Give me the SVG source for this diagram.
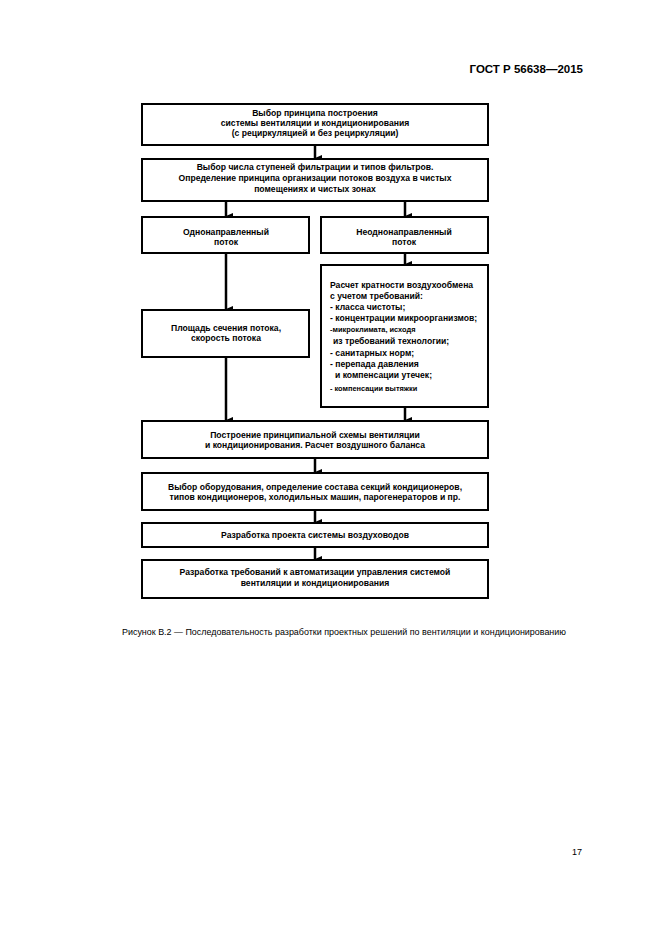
<svg xmlns="http://www.w3.org/2000/svg" width="661" height="935" viewBox="0 0 661 935">
<style>
.box{fill:#fff;stroke:#000;stroke-width:2}
.t{font-family:"Liberation Sans",Arial,sans-serif;font-size:8.6px;font-weight:bold;fill:#000}
.c{text-anchor:middle}
.s{font-size:7.4px}
.con{stroke:#000;stroke-width:2.5;fill:none}
.hdr{font-family:"Liberation Sans",Arial,sans-serif;font-size:11.5px;font-weight:bold;fill:#000}
.cap{font-family:"Liberation Sans",Arial,sans-serif;font-size:9px;fill:#000}
</style>
<defs>
<marker id="ah" markerUnits="userSpaceOnUse" markerWidth="6" markerHeight="7" refX="3" refY="7" orient="auto-start-reverse" viewBox="0 0 6 7">
<path d="M0,0 L6,0 L3,7 Z" fill="#000"/>
</marker>
</defs>
<rect width="661" height="935" fill="#fff"/>
<text class="hdr" x="583" y="73" text-anchor="end">ГОСТ Р 56638—2015</text>

<g id="connectors">
<line class="con" x1="315" y1="145" x2="315" y2="158" marker-end="url(#ah)"/>
<line class="con" x1="226" y1="201" x2="226" y2="216" marker-end="url(#ah)"/>
<line class="con" x1="405" y1="201" x2="405" y2="216" marker-end="url(#ah)"/>
<line class="con" x1="226" y1="253" x2="226" y2="309" marker-end="url(#ah)"/>
<line class="con" x1="405" y1="253" x2="405" y2="264" marker-end="url(#ah)"/>
<line class="con" x1="226" y1="357" x2="226" y2="420" marker-end="url(#ah)"/>
<line class="con" x1="405" y1="407" x2="405" y2="420" marker-end="url(#ah)"/>
<line class="con" x1="315" y1="458" x2="315" y2="472" marker-end="url(#ah)"/>
<line class="con" x1="315" y1="510" x2="315" y2="522" marker-end="url(#ah)"/>
<line class="con" x1="315" y1="547" x2="315" y2="559" marker-end="url(#ah)"/>
</g>

<g id="n1">
<rect class="box" x="142" y="104" width="346" height="41"/>
<text class="t c" x="315" y="116">Выбор принципа построения</text>
<text class="t c" x="315" y="126">системы вентиляции и кондиционирования</text>
<text class="t c" x="315" y="136">(с рециркуляцией и без рециркуляции)</text>
</g>
<g id="n2">
<rect class="box" x="142" y="159" width="346" height="42"/>
<text class="t c" x="315" y="170">Выбор числа ступеней фильтрации и типов фильтров.</text>
<text class="t c" x="315" y="181">Определение принципа организации потоков воздуха в чистых</text>
<text class="t c" x="315" y="192">помещениях и чистых зонах</text>
</g>
<g id="n3">
<rect class="box" x="142" y="217" width="167" height="36"/>
<text class="t c" x="226" y="235">Однонаправленный</text>
<text class="t c" x="226" y="245">поток</text>
</g>
<g id="n4">
<rect class="box" x="321" y="217" width="167" height="36"/>
<text class="t c" x="404" y="235">Неоднонаправленный</text>
<text class="t c" x="404" y="245">поток</text>
</g>
<g id="n5">
<rect class="box" x="142" y="310" width="167" height="47"/>
<text class="t c" x="226" y="331">Площадь сечения потока,</text>
<text class="t c" x="226" y="341">скорость потока</text>
</g>
<g id="n6">
<rect class="box" x="321" y="265" width="167" height="142"/>
<text class="t" x="330" y="288">Расчет кратности воздухообмена</text>
<text class="t" x="330" y="299">с учетом требований:</text>
<text class="t" x="330" y="310">- класса чистоты;</text>
<text class="t" x="330" y="321">- концентрации микроорганизмов;</text>
<text class="t s" x="330" y="332">-микроклимата, исходя</text>
<text class="t" x="333" y="344">из требований технологии;</text>
<text class="t" x="330" y="356">- санитарных норм;</text>
<text class="t" x="330" y="367">- перепада давления</text>
<text class="t" x="335" y="378">и компенсации утечек;</text>
<text class="t s" x="330" y="391">- компенсации вытяжки</text>
</g>
<g id="n7">
<rect class="box" x="142" y="421" width="346" height="37"/>
<text class="t c" x="315" y="438">Построение принципиальной схемы вентиляции</text>
<text class="t c" x="315" y="448">и кондиционирования. Расчет воздушного баланса</text>
</g>
<g id="n8">
<rect class="box" x="142" y="473" width="346" height="37"/>
<text class="t c" x="315" y="490">Выбор оборудования, определение состава секций кондиционеров,</text>
<text class="t c" x="315" y="500">типов кондиционеров, холодильных машин, парогенераторов и пр.</text>
</g>
<g id="n9">
<rect class="box" x="142" y="523" width="346" height="24"/>
<text class="t c" x="315" y="538">Разработка проекта системы воздуховодов</text>
</g>
<g id="n10">
<rect class="box" x="142" y="560" width="346" height="38"/>
<text class="t c" x="315" y="575">Разработка требований к автоматизации управления системой</text>
<text class="t c" x="315" y="586">вентиляции и кондиционирования</text>
</g>

<text class="cap" x="122" y="635" textLength="444" lengthAdjust="spacingAndGlyphs">Рисунок В.2 — Последовательность разработки проектных решений по вентиляции и кондиционированию</text>
<text class="cap" x="572" y="855" font-size="10">17</text>
</svg>
